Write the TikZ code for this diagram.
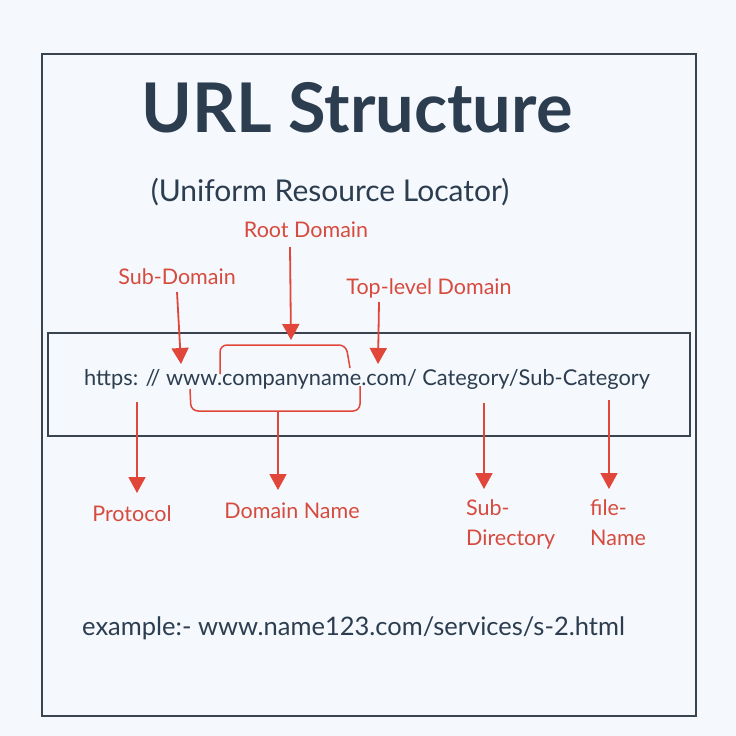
\documentclass[tikz,border=0pt]{standalone}
\usepackage{fontspec}
\setmainfont{Lato}
\usetikzlibrary{arrows.meta}
\definecolor{bg}{HTML}{F5F8FC}
\definecolor{ink}{HTML}{2C3D50}
\definecolor{frame}{HTML}{3A444F}
\definecolor{redarrow}{HTML}{E0473A}
\definecolor{redtext}{HTML}{D64B3E}
\tikzset{
  lbl/.style={text=redtext, font=\fontsize{21.5}{24}\selectfont, inner sep=0pt},
  dark/.style={text=ink, inner sep=0pt},
  redarr/.style={draw=redarrow, line width=1.8pt, -{Triangle[width=17pt,length=16pt]}},
  bracket/.style={draw=redarrow, line width=1.5pt, rounded corners=7pt},
}
\begin{document}
\begin{tikzpicture}[x=1pt,y=-1pt]
\fill[bg] (0,0) rectangle (736,736);
\useasboundingbox (0,0) rectangle (736,736);
% outer frame
\draw[frame, line width=2pt] (42,54) rectangle (696,716);
% inner url box
\draw[frame, line width=2pt] (48,333) rectangle (690,436);
% title
\node[dark, font=\fontsize{68.5}{72}\selectfont\bfseries, anchor=base] (title) at (357,132) {URL Structure};
\node[dark, font=\fontsize{30}{34}\selectfont] (subtitle) at (330,192) {(Uniform Resource Locator)};
% url
\node[dark, font=\fontsize{21.8}{26}\selectfont, anchor=base west] (url) at (84,385) {https: // www.companyname.com/ Category/Sub-Category};
% top labels
\node[lbl] (root) at (306,230) {Root Domain};
\node[lbl] (sub) at (177,277) {Sub-Domain};
\node[lbl] (tld) at (429,288) {Top-level Domain};
\coordinate (subtip) at (181,364);
\coordinate (roottip) at (291,340);
\coordinate (tldtip) at (378,364);
\draw[redarr] (177,292) -- (subtip);
\draw[redarr] (290,247) -- (roottip);
\draw[redarr] (379,302) -- (tldtip);
% brackets
\draw[bracket] (220,374) -- (220,345) -- (346,345) -- (350,368);
\draw[bracket] (190,389) -- (191,411) -- (360,411) -- (360,386);
% bottom labels
\node[lbl] (proto) at (132,514) {Protocol};
\node[lbl] (dom) at (292,511) {Domain Name};
\node[lbl, align=left, anchor=north west, font=\fontsize{21.5}{30}\selectfont] (subdir) at (466,499) {Sub-\\Directory};
\node[lbl, align=left, anchor=north west, font=\fontsize{21.5}{30}\selectfont] (file) at (590,499) {file-\\Name};
\coordinate (protosrc) at (137,402);
\coordinate (domsrc) at (278,411);
\coordinate (subdirsrc) at (484,403);
\coordinate (filesrc) at (609,400);
\draw[redarr] (protosrc) -- (137,493);
\draw[redarr] (domsrc) -- (278,490);
\draw[redarr] (subdirsrc) -- (484,489);
\draw[redarr] (filesrc) -- (609,489);
% example
\node[dark, font=\fontsize{25.5}{28}\selectfont, anchor=base west] (example) at (82,635) {example:- www.name123.com/services/s-2.html};
\end{tikzpicture}
\end{document}
